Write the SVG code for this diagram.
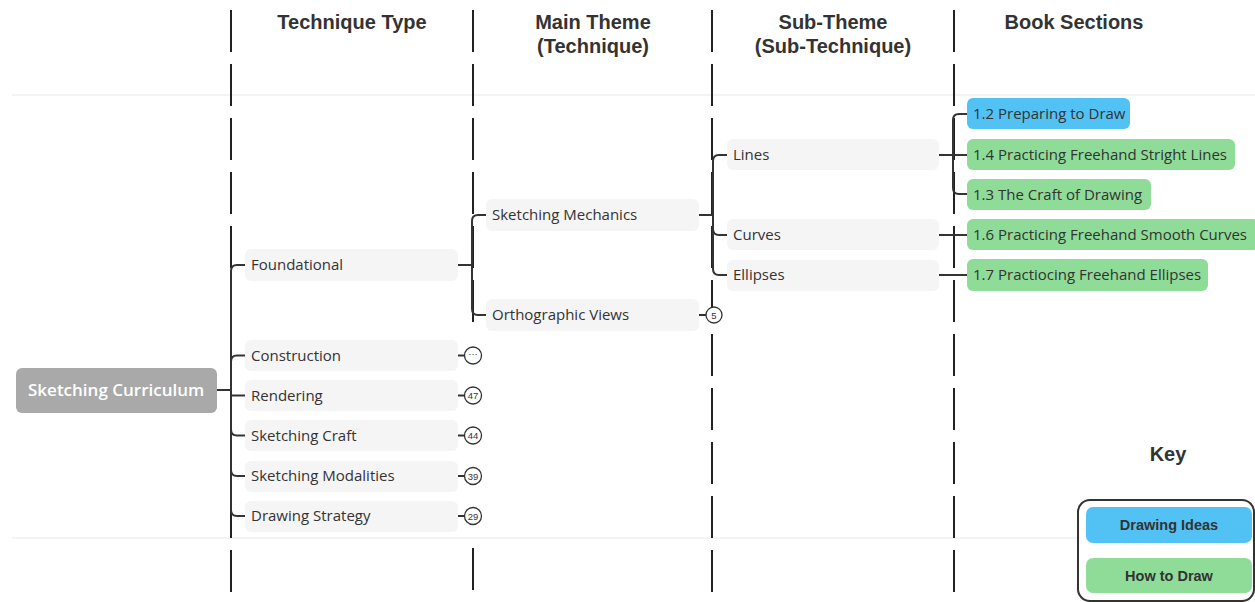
<svg xmlns="http://www.w3.org/2000/svg" width="1255" height="602" viewBox="0 0 1255 602">
<style>
.hdr{font-family:"Liberation Sans",Arial,sans-serif;font-weight:bold;font-size:20px;fill:#333;text-anchor:middle}
.nb{fill:#f5f5f5}
.nt{font-family:"Open Sans","Noto Sans",sans-serif;font-size:15px;fill:#333}
.blue{fill:#52c1f3}
.green{fill:#8edc98}
.conn{fill:none;stroke:#333;stroke-width:2;stroke-linecap:round}
.dash{stroke:#222;stroke-width:2;stroke-dasharray:42 12}
.badge{fill:#fff;stroke:#333;stroke-width:1.3}
.bt{font-family:"Liberation Sans",Arial,sans-serif;font-size:9.5px;fill:#333;text-anchor:middle}
.kt{font-family:"Liberation Sans",Arial,sans-serif;font-weight:bold;font-size:14.5px;fill:#333;text-anchor:middle}
</style>
<rect width="1255" height="602" fill="#fff"/>
<g id="bands">
<line x1="12" y1="95" x2="1255" y2="95" stroke="#e8e8e8" stroke-width="1"/>
<line x1="12" y1="538" x2="1255" y2="538" stroke="#e8e8e8" stroke-width="1"/>
</g>
<g id="columns">
<line class="dash" x1="231" y1="10" x2="231" y2="602"/>
<line class="dash" x1="473" y1="10" x2="473" y2="330"/>
<line class="dash" x1="473" y1="548" x2="473" y2="602"/>
<line class="dash" x1="712" y1="10" x2="712" y2="602"/>
<line class="dash" x1="954" y1="10" x2="954" y2="602"/>
</g>
<g id="headers">
<text class="hdr" x="352" y="29">Technique Type</text>
<text class="hdr" x="593" y="29">Main Theme</text>
<text class="hdr" x="593" y="53">(Technique)</text>
<text class="hdr" x="833" y="29">Sub-Theme</text>
<text class="hdr" x="833" y="53">(Sub-Technique)</text>
<text class="hdr" x="1074" y="29">Book Sections</text>
</g>
<g id="connectors">
<path class="conn" d="M217 390H231V271Q231 265 237 265H245"/>
<path class="conn" d="M231 390V361.5Q231 355.5 237 355.5H245"/>
<path class="conn" d="M231 390V395.5H245"/>
<path class="conn" d="M231 390V429.5Q231 435.5 237 435.5H245"/>
<path class="conn" d="M231 390V470Q231 476 237 476H245"/>
<path class="conn" d="M231 390V510Q231 516 237 516H245"/>
<path class="conn" d="M458 265H472V221Q472 215 478 215H486"/>
<path class="conn" d="M472 265V309Q472 315 478 315H486"/>
<path class="conn" d="M699 215H713V161Q713 155 719 155H727"/>
<path class="conn" d="M713 215V229Q713 235 719 235H727"/>
<path class="conn" d="M713 215V269Q713 275 719 275H727"/>
<path class="conn" d="M939 155H953V120Q953 114 959 114H967"/>
<path class="conn" d="M939 155H967"/>
<path class="conn" d="M953 155V188Q953 194 959 194H967"/>
<path class="conn" d="M939 235H967"/>
<path class="conn" d="M939 275H967"/>
<path class="conn" d="M458 355.5H465"/>
<path class="conn" d="M458 395.5H465"/>
<path class="conn" d="M458 435.5H465"/>
<path class="conn" d="M458 476H465"/>
<path class="conn" d="M458 516H465"/>
<path class="conn" d="M699 315H706"/>
</g>
<g id="root">
<rect x="16" y="368" width="201" height="45" rx="6" fill="#a9a9a9"/>
<text x="28" y="396" font-family="Open Sans, Noto Sans, sans-serif" font-weight="600" font-size="17" fill="#fff">Sketching Curriculum</text>
</g>
<g id="foundational"><rect class="nb" x="245" y="249" width="213" height="32" rx="6"/><text class="nt" x="251" y="270">Foundational</text></g>
<g id="construction"><rect class="nb" x="245" y="340" width="213" height="31" rx="6"/><text class="nt" x="251" y="360.5">Construction</text>
<circle class="badge" cx="473" cy="355.5" r="8.5"/><text class="bt" x="473" y="357">···</text></g>
<g id="rendering"><rect class="nb" x="245" y="380" width="213" height="31" rx="6"/><text class="nt" x="251" y="400.5">Rendering</text>
<circle class="badge" cx="473" cy="395.5" r="8.5"/><text class="bt" x="473" y="399">47</text></g>
<g id="sketching-craft"><rect class="nb" x="245" y="420" width="213" height="31" rx="6"/><text class="nt" x="251" y="440.5">Sketching Craft</text>
<circle class="badge" cx="473" cy="435.5" r="8.5"/><text class="bt" x="473" y="439">44</text></g>
<g id="sketching-modalities"><rect class="nb" x="245" y="461" width="213" height="31" rx="6"/><text class="nt" x="251" y="481">Sketching Modalities</text>
<circle class="badge" cx="473" cy="476" r="8.5"/><text class="bt" x="473" y="479.5">39</text></g>
<g id="drawing-strategy"><rect class="nb" x="245" y="501" width="213" height="31" rx="6"/><text class="nt" x="251" y="521">Drawing Strategy</text>
<circle class="badge" cx="473" cy="516" r="8.5"/><text class="bt" x="473" y="519.5">29</text></g>
<g id="sketching-mechanics"><rect class="nb" x="486" y="199" width="213" height="32" rx="6"/><text class="nt" x="492" y="220">Sketching Mechanics</text></g>
<g id="orthographic-views"><rect class="nb" x="486" y="299" width="213" height="32" rx="6"/><text class="nt" x="492" y="320">Orthographic Views</text>
<circle class="badge" cx="714" cy="315" r="8"/><text class="bt" x="714" y="318.5">5</text></g>
<g id="lines"><rect class="nb" x="727" y="139" width="212" height="31" rx="6"/><text class="nt" x="733" y="160">Lines</text></g>
<g id="curves"><rect class="nb" x="727" y="219" width="212" height="31" rx="6"/><text class="nt" x="733" y="240">Curves</text></g>
<g id="ellipses"><rect class="nb" x="727" y="260" width="212" height="31" rx="6"/><text class="nt" x="733" y="280">Ellipses</text></g>
<g id="s1-2"><rect class="blue" x="967" y="98" width="163" height="31" rx="6"/><text class="nt" x="973" y="119">1.2 Preparing to Draw</text></g>
<g id="s1-4"><rect class="green" x="967" y="139" width="268" height="31" rx="6"/><text class="nt" x="973" y="160">1.4 Practicing Freehand Stright Lines</text></g>
<g id="s1-3"><rect class="green" x="967" y="179" width="184" height="31" rx="6"/><text class="nt" x="973" y="200">1.3 The Craft of Drawing</text></g>
<g id="s1-6"><rect class="green" x="967" y="219" width="292" height="31" rx="6"/><text class="nt" x="973" y="240">1.6 Practicing Freehand Smooth Curves</text></g>
<g id="s1-7"><rect class="green" x="967" y="259" width="241" height="32" rx="6"/><text class="nt" x="973" y="280">1.7 Practiocing Freehand Ellipses</text></g>
<g id="key">
<text class="hdr" x="1168" y="461">Key</text>
<rect x="1078" y="500" width="176" height="101" rx="12" fill="#fff" stroke="#333" stroke-width="2"/>
<rect class="blue" x="1086" y="507" width="166" height="36" rx="7"/>
<text class="kt" x="1169" y="530">Drawing Ideas</text>
<rect class="green" x="1086" y="558" width="166" height="35" rx="7"/>
<text class="kt" x="1169" y="581">How to Draw</text>
</g>
</svg>
